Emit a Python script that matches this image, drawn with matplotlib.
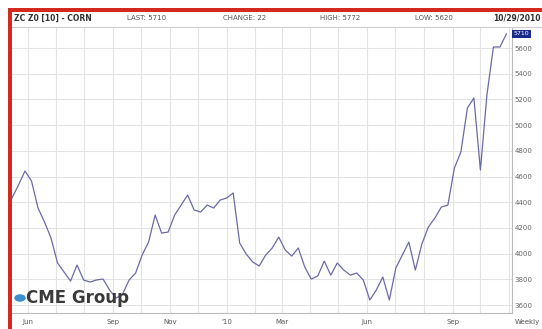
import datetime as dt
import matplotlib
matplotlib.use("Agg")
import matplotlib.pyplot as plt
import matplotlib.dates as mdates
from matplotlib.patches import Rectangle, Circle

# weekly closes, Dec 2010 corn futures
start = dt.date(2009, 5, 15)
prices = [4433, 4534, 4643, 4565, 4355, 4246, 4121, 3927, 3857, 3787,
          3911, 3795, 3779, 3795, 3802, 3717, 3654, 3686, 3795, 3849,
          3989, 4090, 4300, 4160, 4168, 4300, 4378, 4456, 4339, 4324,
          4378, 4355, 4417, 4433, 4472, 4082, 3997, 3935, 3904, 3989,
          4044, 4129, 4028, 3981, 4044, 3896, 3802, 3826, 3942, 3833,
          3927, 3872, 3833, 3849, 3795, 3639, 3717, 3818, 3639, 3888,
          3989, 4090, 3872, 4075, 4207, 4277, 4363, 4378, 4666, 4791,
          5133, 5211, 4651, 5234, 5608, 5608, 5710]
dates = [start + dt.timedelta(weeks=i) for i in range(len(prices))]

y_ticks = [3600, 3800, 4000, 4200, 4400, 4600, 4800, 5000, 5200, 5400, 5600]
x_label_dates = [dt.date(2009, 6, 1), dt.date(2009, 9, 1), dt.date(2009, 11, 1),
                 dt.date(2010, 1, 1), dt.date(2010, 3, 1), dt.date(2010, 6, 1),
                 dt.date(2010, 9, 1)]
x_label_text = ["Jun", "Sep", "Nov", "'10", "Mar", "Jun", "Sep"]

fig = plt.figure(figsize=(5.42, 3.29), dpi=100)
ax = fig.add_axes([12 / 542, 16 / 329, 500 / 542, 285 / 329])

ax.plot(dates, prices, color="#6a6aa8", lw=0.9)
ax.set_xlim(start, start + dt.timedelta(days=538))
ax.set_ylim(3538, 5756)

# monthly vertical grid, price grid every 200
months = [dt.date(2009 + (5 + m) // 12, (5 + m) % 12 + 1, 1) for m in range(18)]
ax.set_xticks(months)
ax.set_xticklabels([])
ax.tick_params(axis="x", length=0)
ax.yaxis.tick_right()
ax.set_yticks(y_ticks)
ax.set_yticklabels([str(v) for v in y_ticks], fontsize=5, color="#666666")
ax.tick_params(axis="y", length=0, pad=2)
ax.grid(True, color="#e3e3e3", lw=0.8)

for s in ["left", "top"]:
    ax.spines[s].set_visible(False)
for s in ["right", "bottom"]:
    ax.spines[s].set_color("#bbbbbb")
    ax.spines[s].set_linewidth(0.8)

for d, t in zip(x_label_dates, x_label_text):
    ax.text(mdates.date2num(d), -0.03, t, transform=ax.get_xaxis_transform(),
            ha="center", va="center", fontsize=5, color="#555555")
fig.text(527 / 542, 1 - 322 / 329, "Weekly", ha="center", va="center",
         fontsize=5, color="#555555")

# last price tag on the right axis
ax.text(1.003, 5710, "5710", transform=ax.get_yaxis_transform(), ha="left",
        va="center", fontsize=4.5, color="white",
        bbox=dict(boxstyle="square,pad=0.25", fc="#1a2a8a", ec="none"))

# header strip
hy = 1 - 18 / 329
fig.text(14 / 542, hy, "ZC Z0 [10] - CORN", fontsize=5.5, fontweight="bold",
         color="#333333", va="center")
fig.text(127 / 542, hy, "LAST: 5710", fontsize=5, color="#555555", va="center")
fig.text(223 / 542, hy, "CHANGE: 22", fontsize=5, color="#555555", va="center")
fig.text(320 / 542, hy, "HIGH: 5772", fontsize=5, color="#555555", va="center")
fig.text(415 / 542, hy, "LOW: 5620", fontsize=5, color="#555555", va="center")
fig.text(541 / 542, hy, "10/29/2010", fontsize=5.5, fontweight="bold",
         color="#333333", va="center", ha="right")
fig.add_artist(plt.Line2D([12 / 542, 1], [1 - 27 / 329] * 2, color="#cccccc",
                          lw=0.8, transform=fig.transFigure))

# red frame along top and left edges
fig.add_artist(Rectangle((8 / 542, 0), 4 / 542, 1 - 8 / 329, color="#d42a1e",
                         transform=fig.transFigure, lw=0))
fig.add_artist(Rectangle((8 / 542, 1 - 12 / 329), 1, 4 / 329, color="#d42a1e",
                         transform=fig.transFigure, lw=0))

# logo
fig.add_artist(Circle((20 / 542, 1 - 298 / 329), 5 / 542, color="#3a8fd0",
                      transform=fig.transFigure))
fig.text(26 / 542, 1 - 298 / 329, "CME Group", fontsize=12, color="#3a3a3a",
         fontweight="semibold", va="center", ha="left")

fig.savefig("out.png", dpi=100)
